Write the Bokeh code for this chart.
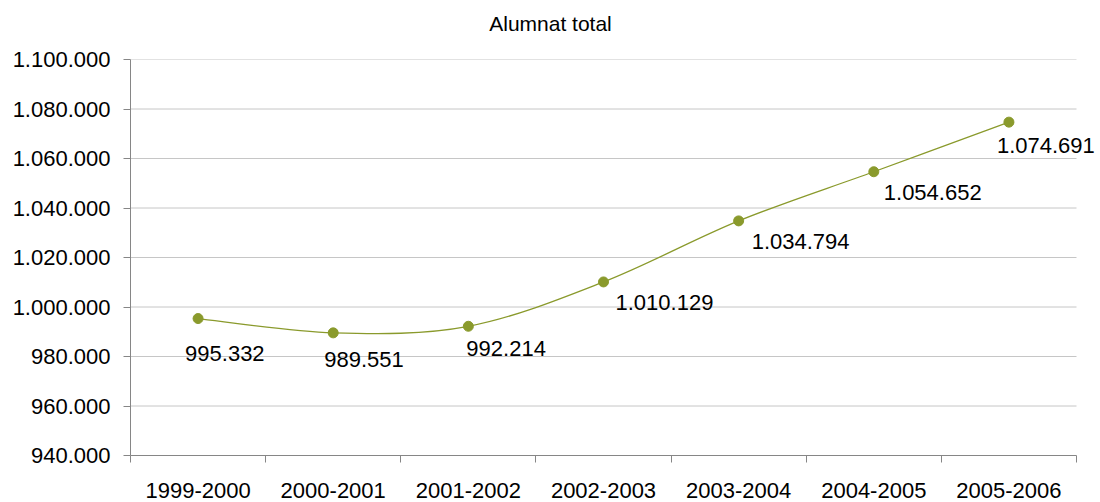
from bokeh.plotting import figure
from bokeh.models import FixedTicker, Range1d, ColumnDataSource, Label, LinearAxis
from bokeh.embed import file_html
from bokeh.resources import INLINE

# ---- data ----
categories = ["1999-2000", "2000-2001", "2001-2002", "2002-2003",
              "2003-2004", "2004-2005", "2005-2006"]
alumnat = [995332, 989551, 992214, 1010129, 1034794, 1054652, 1074691]
y_ticks = [940000, 960000, 980000, 1000000, 1020000, 1040000, 1060000, 1080000, 1100000]
title_text = "Alumnat total"

# label nudges (pixels, style only)
label_dx = [-13, -9, -2, 12, 13, 10, -12]
label_dy = [35, 27, 22, 21, 21, 21, 23]

def fmt(v):
    return f"{v:,}".replace(",", ".")

FONT = "Liberation Sans"
OLIVE = "#8a9a2c"

# layout (pixels)
W, H = 1100, 502
LEFT, TOP, BOTTOM = 130, 59, 47
PLOT_W = 946                      # visible plot area width
FRAME_W = W - LEFT                # frame extends to the right edge so labels are not clipped
TITLE_CENTER_PX = 550             # title is centred on the whole chart

n = len(categories)
xs = [i + 0.5 for i in range(n)]
x_end = n * FRAME_W / PLOT_W
title_pos = round((TITLE_CENTER_PX - LEFT) * n / PLOT_W, 4)

p = figure(width=W, height=H, output_backend="svg", toolbar_location=None,
           x_range=Range1d(0, x_end), y_range=Range1d(y_ticks[0], y_ticks[-1]),
           min_border_left=LEFT, min_border_right=0, min_border_top=TOP,
           min_border_bottom=BOTTOM)
p.outline_line_color = None
p.background_fill_color = "white"
p.border_fill_color = "white"

# grid (drawn only across the plot area)
p.xgrid.visible = False
p.ygrid.visible = False
p.segment(x0=[0] * (len(y_ticks) - 1), x1=[n] * (len(y_ticks) - 1),
          y0=y_ticks[1:], y1=y_ticks[1:], line_color="#c6c6c6", line_width=1)

# y axis
ya = p.left[0]
ya.ticker = FixedTicker(ticks=y_ticks)
ya.major_label_overrides = {t: fmt(t) for t in y_ticks}
ya.axis_line_color = "#868686"
ya.major_tick_line_color = "#868686"
ya.major_tick_out = 7
ya.major_tick_in = 0
ya.minor_tick_line_color = None
ya.major_label_standoff = 13
ya.major_label_text_font = FONT
ya.major_label_text_font_size = "22px"
ya.major_label_text_color = "black"

# x axis (below): labels at centers, ticks at boundaries
xa = p.below[0]
xa.bounds = (0, n)
xa.ticker = FixedTicker(ticks=xs, minor_ticks=list(range(n + 1)))
xa.major_label_overrides = {x: c for x, c in zip(xs, categories)}
xa.axis_line_color = "#868686"
xa.major_tick_line_color = None
xa.major_tick_out = 0
xa.major_tick_in = 0
xa.minor_tick_line_color = "#868686"
xa.minor_tick_out = 7
xa.minor_tick_in = 0
xa.major_label_standoff = 20
xa.major_label_text_font = FONT
xa.major_label_text_font_size = "22px"
xa.major_label_text_color = "black"

# title, set as a single label above the plot
ta = LinearAxis(ticker=FixedTicker(ticks=[title_pos], minor_ticks=[]),
                major_label_overrides={title_pos: title_text})
ta.axis_line_color = None
ta.major_tick_line_color = None
ta.minor_tick_line_color = None
ta.major_tick_out = 0
ta.major_tick_in = 0
ta.major_label_standoff = 25
ta.major_label_text_font = FONT
ta.major_label_text_font_size = "21px"
ta.major_label_text_color = "black"
p.add_layout(ta, "above")

# smoothed line (Catmull-Rom -> cubic Bezier)
ext_x = [xs[0]] + xs + [xs[-1]]
ext_y = [alumnat[0]] + alumnat + [alumnat[-1]]
bx0, by0, bx1, by1, cx0, cy0, cx1, cy1 = ([] for _ in range(8))
for i in range(n - 1):
    p0x, p0y = ext_x[i], ext_y[i]
    p1x, p1y = ext_x[i + 1], ext_y[i + 1]
    p2x, p2y = ext_x[i + 2], ext_y[i + 2]
    p3x, p3y = ext_x[i + 3], ext_y[i + 3]
    bx0.append(p1x); by0.append(p1y)
    bx1.append(p2x); by1.append(p2y)
    cx0.append(p1x + (p2x - p0x) / 6); cy0.append(p1y + (p2y - p0y) / 6)
    cx1.append(p2x - (p3x - p1x) / 6); cy1.append(p2y - (p3y - p1y) / 6)
p.bezier(x0=bx0, y0=by0, x1=bx1, y1=by1, cx0=cx0, cy0=cy0, cx1=cx1, cy1=cy1,
         line_color=OLIVE, line_width=1.3)

src = ColumnDataSource(dict(x=xs, y=alumnat))
p.scatter("x", "y", source=src, size=10, fill_color=OLIVE, line_color=OLIVE)

for x, v, dx, dy in zip(xs, alumnat, label_dx, label_dy):
    p.add_layout(Label(x=x, y=v, text=fmt(v), x_offset=dx, y_offset=-dy,
                       text_font=FONT, text_font_size="22px", text_color="black",
                       text_align="left", text_baseline="middle"))

open("out.html", "w").write(file_html(p, INLINE))
